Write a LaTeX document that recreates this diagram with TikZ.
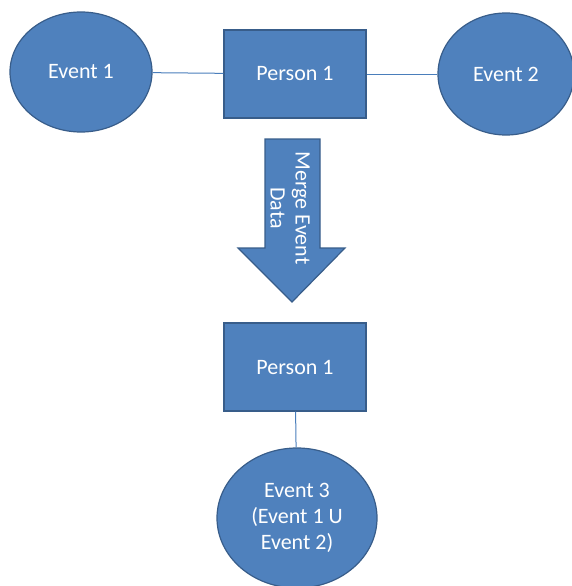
\documentclass[tikz,border=0pt]{standalone}
\usepackage{fontspec}
\setmainfont{Carlito}
\usetikzlibrary{shapes.geometric}
\definecolor{ofill}{HTML}{4F81BD}
\definecolor{oline}{HTML}{385D8A}
\definecolor{conn}{HTML}{4A7EBB}
\tikzset{
  base/.style={fill=ofill, draw=oline, line width=1.2pt, text=white, inner sep=0pt,
    font=\fontsize{22}{26}\selectfont, align=center},
  evt/.style={base, ellipse},
  pers/.style={base, rectangle, minimum width=142pt, minimum height=88pt},
  link/.style={draw=conn, line width=1pt}
}
\begin{document}
\begin{tikzpicture}[x=1pt,y=-1pt]
\useasboundingbox (0,0) rectangle (571,586);
\node[evt, minimum width=142pt, minimum height=120pt] (e1) at (81,72) {Event 1};
\node[pers] (p1) at (295,74) {Person 1};
\node[evt, minimum width=136pt, minimum height=122pt] (e2) at (506,74) {Event 2};
\draw[link] (e1) -- (p1);
\draw[link] (p1) -- (e2);
% big arrow
\path[fill=ofill, draw=oline, line width=1.2pt]
  (265,139) -- (320,139) -- (320,248) -- (345,248) -- (292,302) -- (238,248) -- (265,248) -- cycle;
\node[text=white, font=\fontsize{22}{25}\selectfont, align=center, rotate=-90, inner sep=0pt] (lbl) at (290,208) {Merge Event\\Data};
\node[pers] (p2) at (295,367) {Person 1};
\node[evt, minimum width=160pt, minimum height=140pt] (e3) at (297,518) {Event 3\\(Event 1 U\\Event 2)};
\draw[link] (p2) -- (e3);
\end{tikzpicture}
\end{document}
